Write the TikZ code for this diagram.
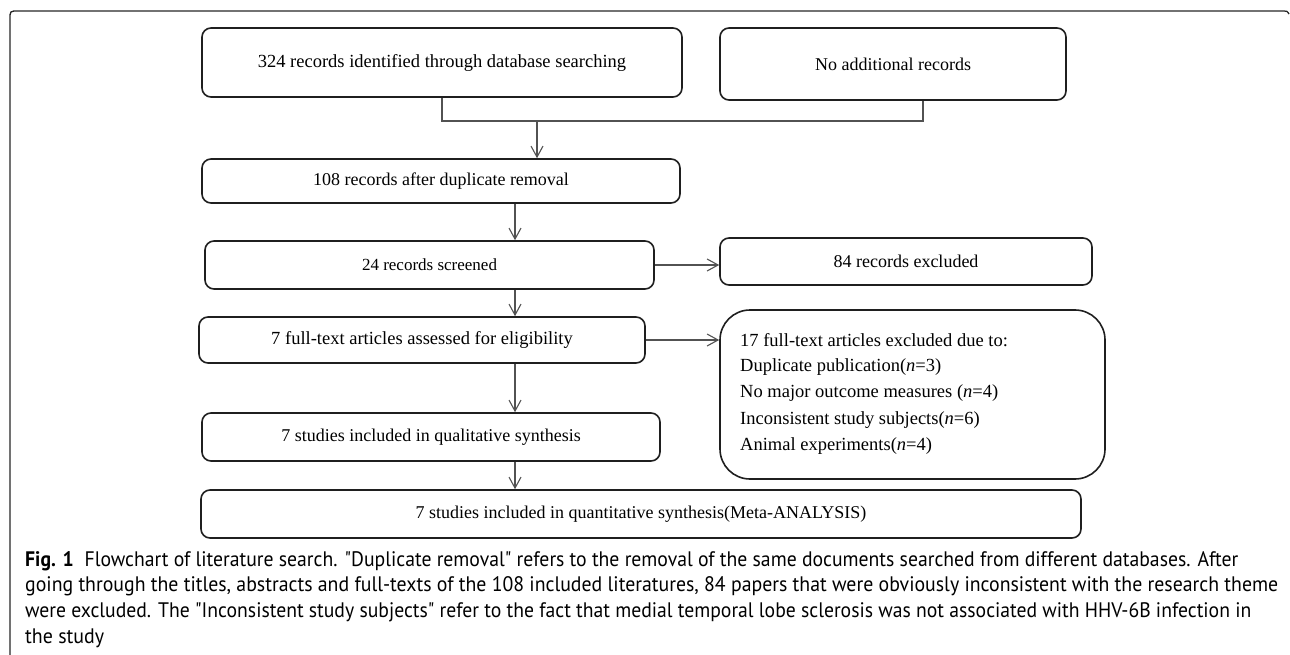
\documentclass[tikz,border=0pt]{standalone}
\usepackage{fontspec}
\usepackage{graphicx}
\setmainfont{Liberation Serif}
\newfontfamily\capfont{PT Sans}
\usetikzlibrary{arrows.meta}
\begin{document}
\begin{tikzpicture}[x=1pt,y=-1pt,
  box/.style={draw=black!88, line width=1.6pt, rounded corners=9pt, inner sep=0pt,
    font=\fontsize{18}{22}\selectfont},
  conn/.style={draw=black!68, line width=1.2pt},
  arr/.style={conn, -{Straight Barb[length=11pt,width=12pt,line width=1.1pt]}},
  etext/.style={anchor=west, inner sep=0pt, font=\fontsize{18.5}{22}\selectfont},
  captext/.style={anchor=base west, inner sep=0pt, font=\capfont\fontsize{21}{24}\selectfont},
  frameline/.style={draw=black!85, line width=1.3pt}]
\useasboundingbox (0,0) rectangle (1290,655);
% frame
\draw[frameline] (10,655) -- (10,19) .. controls (10,11) .. (18,11) -- (1284,11)
  .. controls (1287,11) .. (1289,14);
% boxes
\node[box, font=\fontsize{18.5}{22}\selectfont, minimum width=480pt, minimum height=69pt] (b1) at (442,62.5) {324 records identified through database searching};
\node[box, minimum width=346pt, minimum height=72pt] (b2) at (893,64) {No additional records};
\node[box, minimum width=478pt, minimum height=44pt] (b3) at (441,181) {108 records after duplicate removal};
\node[box, font=\fontsize{17}{22}\selectfont, minimum width=449pt, minimum height=48pt] (b4) at (429.5,265) {24 records screened};
\node[box, font=\fontsize{18.5}{22}\selectfont, minimum width=446pt, minimum height=46pt] (b5) at (422,340) {7 full-text articles assessed for eligibility};
\node[box, minimum width=458pt, minimum height=48pt] (b6) at (431,437) {7 studies included in qualitative synthesis};
\node[box, minimum width=880pt, minimum height=48pt] (b7) at (641,514) {7 studies included in quantitative synthesis(Meta-ANALYSIS)};
\node[box, minimum width=372pt, minimum height=47pt] (e1) at (906,261.5) {84 records excluded};
\node[box, rounded corners=30pt, minimum width=385pt, minimum height=169pt] (e2) at (912.5,394.5) {};
\node[etext] (l1) at (740,340) {17 full-text articles excluded due to:};
\node[etext] (l2) at (740,367) {Duplicate publication(\textit{n}=3)};
\node[etext] (l3) at (740,393) {No major outcome measures (\textit{n}=4)};
\node[etext] (l4) at (740,420) {Inconsistent study subjects(\textit{n}=6)};
\node[etext] (l5) at (740,446) {Animal experiments(\textit{n}=4)};
% connectors
\coordinate (jl) at (442,121);
\coordinate (jr) at (923,121);
\coordinate (jm) at (537,121);
\coordinate (ax) at (515,0);
\draw[conn] (b1.south) -- (jl) -- (jr) -- (jr |- b2.south);
\draw[arr] (jm) -- (jm |- b3.north);
\draw[arr] (ax |- b3.south) -- (ax |- b4.north);
\draw[arr] (ax |- b4.south) -- (ax |- b5.north);
\draw[arr] (ax |- b5.south) -- (ax |- b6.north);
\draw[arr] (ax |- b6.south) -- (ax |- b7.north);
\draw[arr] (b4.east) -- (b4.east -| e1.west);
\draw[arr] (b5.east) -- (b5.east -| e2.west);
% caption
\node[captext] (c1) at (25,566) {\resizebox{1213pt}{\height}{\textbf{Fig. 1}\hspace{0.55em}Flowchart of literature search. "Duplicate removal" refers to the removal of the same documents searched from different databases. After}};
\node[captext] (c2) at (25,591.5) {\resizebox{1253pt}{\height}{going through the titles, abstracts and full-texts of the 108 included literatures, 84 papers that were obviously inconsistent with the research theme}};
\node[captext] (c3) at (25,617) {\resizebox{1226pt}{\height}{were excluded. The "Inconsistent study subjects" refer to the fact that medial temporal lobe sclerosis was not associated with HHV-6B infection in}};
\node[captext] (c4) at (25,643) {\resizebox{79pt}{\height}{the study}};
\end{tikzpicture}
\end{document}
